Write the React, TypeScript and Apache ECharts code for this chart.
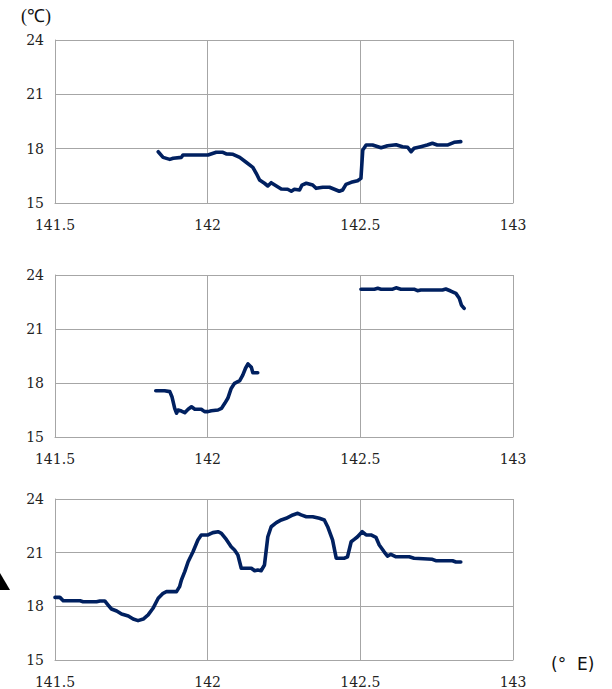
import React, { useEffect, useRef } from "react";
import * as echarts from "echarts";

// Longitude (°E) of each sample along the three transects
const lon1 = [141.838, 141.854, 141.876, 141.887, 141.914, 141.919, 142.001, 142.028, 142.05, 142.061, 142.083, 142.105, 142.126, 142.148, 142.159, 142.17, 142.186, 142.197, 142.208, 142.225, 142.241, 142.262, 142.274, 142.284, 142.301, 142.309, 142.323, 142.344, 142.355, 142.377, 142.399, 142.415, 142.431, 142.442, 142.453, 142.47, 142.491, 142.502, 142.508, 142.519, 142.54, 142.568, 142.589, 142.617, 142.638, 142.655, 142.666, 142.676, 142.698, 142.719, 142.736, 142.752, 142.785, 142.807, 142.829];
const temp1 = [17.83, 17.52, 17.41, 17.47, 17.52, 17.65, 17.65, 17.8, 17.8, 17.71, 17.69, 17.52, 17.25, 16.97, 16.64, 16.27, 16.09, 15.94, 16.12, 15.94, 15.77, 15.76, 15.65, 15.76, 15.72, 15.99, 16.09, 15.99, 15.81, 15.87, 15.87, 15.76, 15.65, 15.72, 16.03, 16.14, 16.23, 16.36, 17.93, 18.2, 18.2, 18.05, 18.16, 18.22, 18.11, 18.08, 17.83, 18.02, 18.11, 18.2, 18.3, 18.2, 18.2, 18.35, 18.39];

const lon2 = [141.83, 141.859, 141.876, 141.883, 141.892, 141.898, 141.903, 141.914, 141.925, 141.936, 141.947, 141.958, 141.979, 141.99, 142.001, 142.012, 142.034, 142.045, 142.056, 142.066, 142.077, 142.088, 142.105, 142.115, 142.124, 142.132, 142.143, 142.148, 142.164, 142.33, 142.502, 142.546, 142.557, 142.568, 142.606, 142.617, 142.633, 142.676, 142.687, 142.698, 142.769, 142.78, 142.796, 142.813, 142.824, 142.831, 142.84];
const temp2: (number | null)[] = [17.57, 17.57, 17.52, 17.24, 16.59, 16.32, 16.5, 16.44, 16.35, 16.54, 16.68, 16.54, 16.54, 16.41, 16.41, 16.46, 16.5, 16.59, 16.87, 17.15, 17.7, 17.98, 18.13, 18.44, 18.82, 19.06, 18.87, 18.57, 18.57, null, 23.21, 23.21, 23.26, 23.21, 23.21, 23.29, 23.21, 23.21, 23.13, 23.17, 23.17, 23.22, 23.11, 22.98, 22.71, 22.33, 22.15];

const lon3 = [141.5, 141.516, 141.527, 141.582, 141.592, 141.636, 141.647, 141.663, 141.674, 141.685, 141.702, 141.718, 141.74, 141.756, 141.772, 141.789, 141.805, 141.821, 141.838, 141.854, 141.865, 141.898, 141.908, 141.914, 141.925, 141.936, 141.952, 141.968, 141.979, 142.001, 142.017, 142.034, 142.045, 142.061, 142.077, 142.088, 142.099, 142.11, 142.121, 142.143, 142.154, 142.164, 142.175, 142.186, 142.197, 142.208, 142.225, 142.241, 142.257, 142.279, 142.295, 142.306, 142.323, 142.344, 142.366, 142.382, 142.393, 142.409, 142.421, 142.448, 142.458, 142.47, 142.48, 142.491, 142.506, 142.519, 142.535, 142.551, 142.562, 142.578, 142.589, 142.6, 142.617, 142.66, 142.676, 142.736, 142.747, 142.802, 142.813, 142.829];
const temp3 = [18.5, 18.5, 18.31, 18.31, 18.26, 18.26, 18.3, 18.3, 18.07, 17.85, 17.74, 17.57, 17.46, 17.29, 17.2, 17.29, 17.52, 17.89, 18.45, 18.73, 18.82, 18.82, 19.1, 19.47, 19.94, 20.49, 21.05, 21.71, 21.99, 21.99, 22.12, 22.17, 22.08, 21.74, 21.33, 21.15, 20.87, 20.13, 20.13, 20.13, 19.99, 20.03, 19.99, 20.31, 21.89, 22.45, 22.68, 22.83, 22.92, 23.11, 23.2, 23.11, 23.01, 23.01, 22.92, 22.83, 22.45, 21.71, 20.69, 20.69, 20.77, 21.61, 21.74, 21.89, 22.17, 21.99, 21.99, 21.86, 21.43, 21.05, 20.81, 20.91, 20.77, 20.77, 20.69, 20.63, 20.55, 20.55, 20.48, 20.48];

const xTicks = [141.5, 142, 142.5, 143];
const yTicks = [15, 18, 21, 24];

const lineColor = "#002060";
const gridColor = "#a6a6a6";
const serif = "'DejaVu Serif', 'Liberation Serif', serif";

const panels = [
  { lon: lon1, temp: temp1 as (number | null)[], top: 40, height: 163 },
  { lon: lon2, temp: temp2, top: 275, height: 162 },
  { lon: lon3, temp: temp3 as (number | null)[], top: 499, height: 161 },
];

export default function App() {
  const ref = useRef<HTMLDivElement>(null);

  useEffect(() => {
    if (!ref.current) return;
    const chart = echarts.init(ref.current, null, { renderer: "svg" });

    const grid = panels.map((p) => ({
      left: 55,
      right: 99,
      top: p.top,
      height: p.height,
      containLabel: false,
    }));

    const xAxis = panels.map((_, i) => ({
      type: "value",
      gridIndex: i,
      min: xTicks[0],
      max: xTicks[xTicks.length - 1],
      interval: 0.5,
      axisLine: { show: true, lineStyle: { color: gridColor, width: 1 } },
      axisTick: { show: false },
      splitLine: { show: true, lineStyle: { color: gridColor, width: 1 } },
      axisLabel: {
        color: "#222",
        fontFamily: serif,
        fontSize: 14,
        margin: 15,
        formatter: (v: number) => String(v),
      },
    }));

    const yAxis = panels.map((_, i) => ({
      type: "value",
      gridIndex: i,
      min: yTicks[0],
      max: yTicks[yTicks.length - 1],
      interval: 3,
      axisLine: { show: true, lineStyle: { color: gridColor, width: 1 } },
      axisTick: { show: false },
      splitLine: { show: true, lineStyle: { color: gridColor, width: 1 } },
      axisLabel: {
        color: "#222",
        fontFamily: serif,
        fontSize: 14,
        margin: 11,
      },
    }));

    const series = panels.map((p, i) => ({
      type: "line",
      xAxisIndex: i,
      yAxisIndex: i,
      data: p.lon.map((x, k) => [x, p.temp[k]]),
      showSymbol: false,
      connectNulls: false,
      lineStyle: { color: lineColor, width: 3.6, join: "round", cap: "round" },
      itemStyle: { color: lineColor },
    }));

    chart.setOption({
      animation: false,
      backgroundColor: "#ffffff",
      grid,
      xAxis,
      yAxis,
      series,
      graphic: [
        {
          type: "text",
          left: 21,
          top: 7,
          style: { text: "(℃)", fontFamily: "'Liberation Serif', serif", fontSize: 18, fill: "#111" },
        },
        {
          type: "text",
          left: 551,
          top: 655,
          style: { text: "(°  E)", fontFamily: "'DejaVu Sans', sans-serif", fontSize: 17, fill: "#111" },
        },
        {
          type: "polygon",
          shape: { points: [[0, 573], [10, 590], [0, 590]] },
          style: { fill: "#000" },
        },
      ],
    });

    return () => chart.dispose();
  }, []);

  return (
    <div
      ref={ref}
      style={{ position: "absolute", left: 0, top: 0, width: 612, height: 689 }}
    />
  );
}
